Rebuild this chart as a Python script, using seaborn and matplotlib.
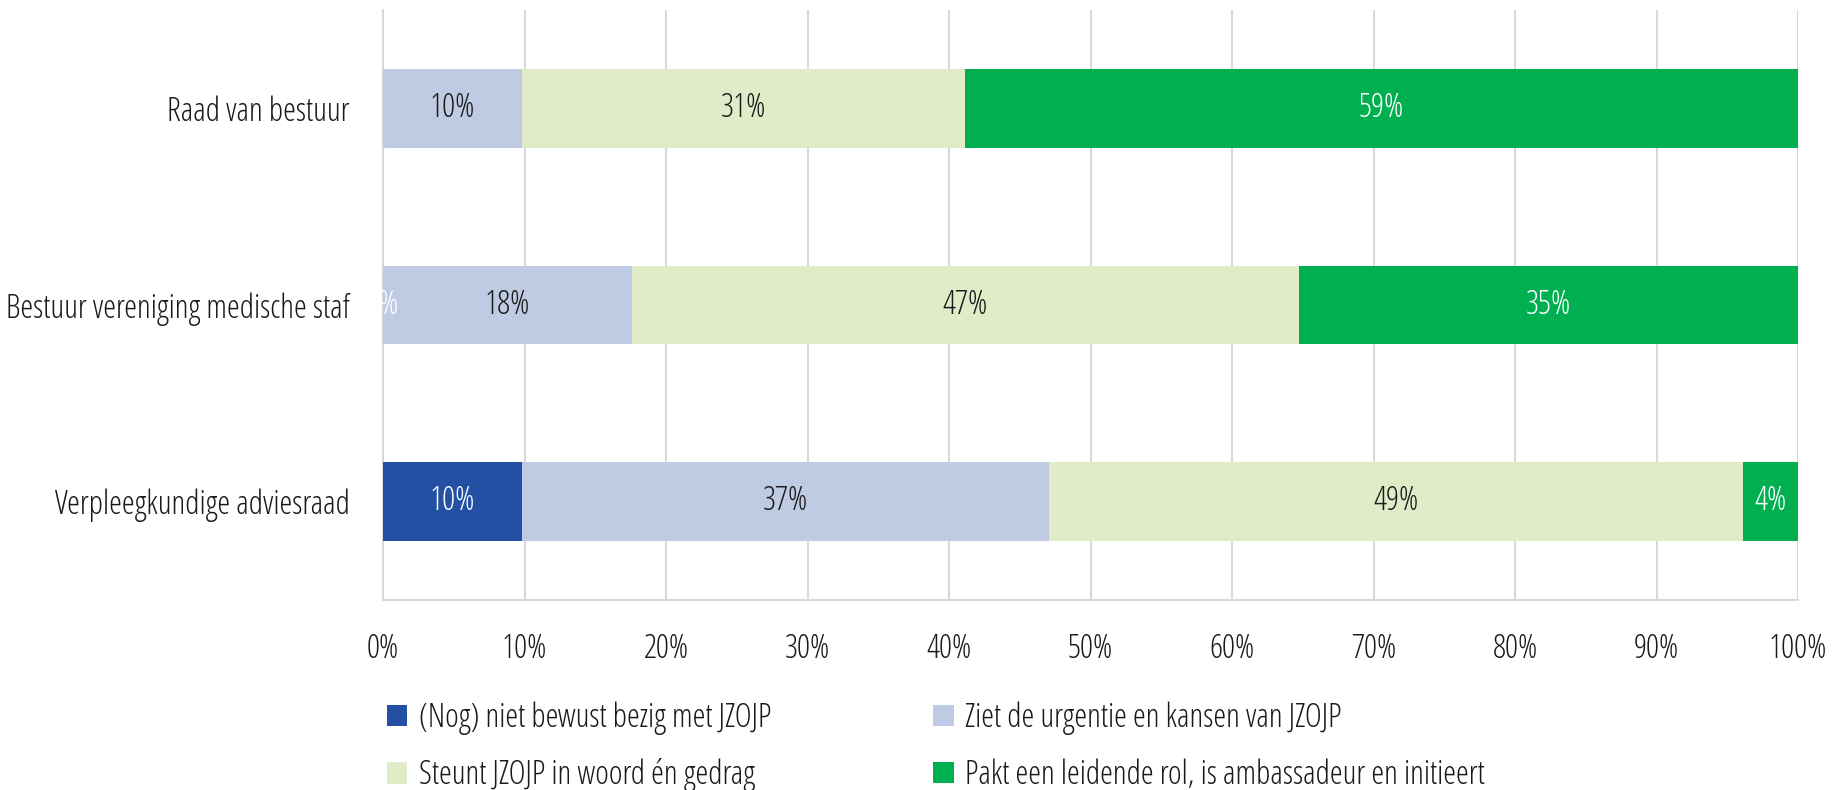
import matplotlib
matplotlib.use("Agg")
import matplotlib.pyplot as plt
from matplotlib.patches import Patch
import seaborn as sns
import numpy as np
import pandas as pd

categories = ["Raad van bestuur", "Bestuur vereniging medische staf", "Verpleegkundige adviesraad"]
series_names = ["(Nog) niet bewust bezig met JZOJP",
                "Ziet de urgentie en kansen van JZOJP",
                "Steunt JZOJP in woord én gedrag",
                "Pakt een leidende rol, is ambassadeur en initieert"]
s_niet = [0.0, 0.0, 9.8]
s_ziet = [9.8, 17.6, 37.3]
s_steunt = [31.3, 47.1, 49.0]
s_pakt = [58.9, 35.3, 3.9]
show_label = [[False, True, True], [True, True, True], [True, True, True], [True, True, True]]
colors = ["#2350A3", "#BECBE2", "#E0ECC8", "#00B050"]
text_colors = ["white", "#1a1a1a", "#1a1a1a", "white"]
xticks = [0, 10, 20, 30, 40, 50, 60, 70, 80, 90, 100]

sns.set_theme(style="white")
plt.rcParams["font.family"] = ["Open Sans", "DejaVu Sans"]
plt.rcParams["font.stretch"] = "condensed"
plt.rcParams["font.weight"] = "light"

series = [s_niet, s_ziet, s_steunt, s_pakt]
vals = np.array(series)
cum = np.cumsum(vals, axis=0)

FS = 23.5
fig = plt.figure(figsize=(18.43, 7.9), dpi=100)
ax = fig.add_axes([383 / 1843, 1 - 600 / 790, (1798 - 383) / 1843, 590 / 790])

for i in range(3, -1, -1):
    df = pd.DataFrame({"cat": categories, "val": cum[i]})
    sns.barplot(data=df, x="val", y="cat", orient="h", color=colors[i], width=0.4,
                ax=ax, saturation=1, linewidth=0, zorder=3)

for i in range(4):
    for j in range(3):
        if not show_label[i][j]:
            continue
        left = cum[i][j] - vals[i][j]
        xc = left + vals[i][j] / 2
        ax.text(xc, j, f"{round(vals[i][j])}%", ha="center", va="center",
                color=text_colors[i], fontsize=FS, zorder=5, clip_on=False)

ax.set_xlim(0, 100)
ax.set_ylim(2.5, -0.5)
ax.set_xticks(xticks)
ax.set_xticklabels([f"{t}%" for t in xticks], fontsize=FS, color="#1a1a1a")
ax.tick_params(axis="x", pad=23.5, length=0)
ax.tick_params(axis="y", pad=24, length=0, labelsize=FS, labelcolor="#1a1a1a")
ax.set_xlabel("")
ax.set_ylabel("")
ax.grid(axis="x", color="#D9D9D9", linewidth=1.5, zorder=0)
ax.set_axisbelow(True)
for s in ["top", "right"]:
    ax.spines[s].set_visible(False)
for s in ["left", "bottom"]:
    ax.spines[s].set_color("#D9D9D9")
    ax.spines[s].set_linewidth(1.5)

handles = [Patch(facecolor=c, edgecolor="none") for c in colors]
order = [0, 2, 1, 3]
fig.legend([handles[k] for k in order], [series_names[k] for k in order],
           ncol=2, loc="upper left", bbox_to_anchor=(361 / 1843, 1 - 675 / 790),
           frameon=False, fontsize=FS, handlelength=0.62, handleheight=0.62,
           handletextpad=0.35, columnspacing=4.97, labelspacing=0.73, labelcolor="#1a1a1a",
           borderpad=0.3)

fig.savefig("out.png", dpi=100)
